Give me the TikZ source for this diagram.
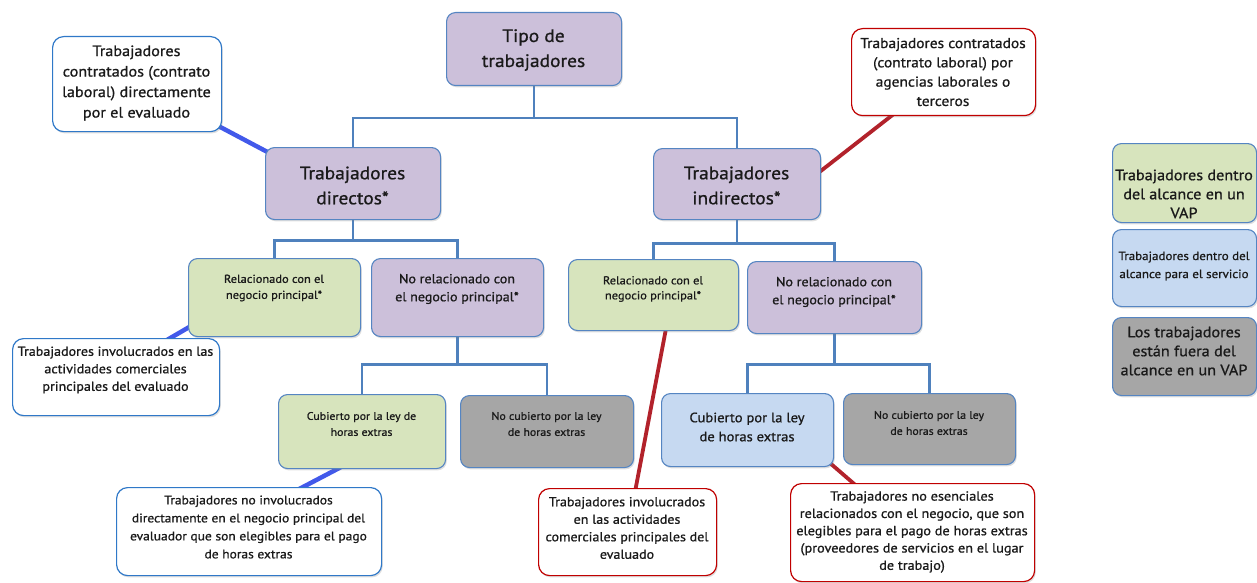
\documentclass[tikz,border=0pt]{standalone}
\usepackage{fontspec}
\setmainfont{PT Sans}[FakeStretch=1.08, FakeBold=0.9]
\usetikzlibrary{shadows,backgrounds}
\definecolor{purp}{HTML}{CCC0DA}
\definecolor{grn}{HTML}{D7E4BD}
\definecolor{lblue}{HTML}{C6D9F1}
\definecolor{gry}{HTML}{A6A6A6}
\definecolor{bline}{HTML}{5585C2}
\definecolor{treec}{HTML}{4F81BD}
\definecolor{wblue}{HTML}{2F78C8}
\definecolor{wred}{HTML}{C00000}
\definecolor{cblue}{HTML}{4259EA}
\definecolor{cred}{HTML}{B2222B}
\definecolor{txt}{HTML}{1A1A1A}
\tikzset{
  box/.style={draw=bline, line width=1.1pt, rounded corners=9pt, anchor=north west, inner sep=0pt,
    drop shadow={shadow xshift=1.2pt, shadow yshift=-1.8pt, opacity=0.25}},
  pbox/.style={box, fill=purp},
  gbox/.style={box, fill=grn},
  bbox/.style={box, fill=lblue},
  ybox/.style={box, fill=gry},
  wbbox/.style={box, fill=white, draw=wblue, line width=1.2pt, rounded corners=11pt},
  wrbox/.style={box, fill=white, draw=wred, line width=1.2pt, rounded corners=11pt},
  tx/.style={align=center, text=txt, inner sep=0pt},
  tree/.style={draw=treec, line width=2.8pt},
  bconn/.style={draw=cblue, line width=4.5pt},
  rconn/.style={draw=cred, line width=3.8pt},
}
\begin{document}
\begin{tikzpicture}[x=1pt, y=-1pt]
\useasboundingbox (0,0) rectangle (1257,583);
% boxes
\node[pbox, minimum width=175, minimum height=73] (tipo) at (446,12) {};
\node[wbbox, minimum width=169, minimum height=95] (tlw) at (52,36) {};
\node[pbox, minimum width=175, minimum height=72] (dir) at (265,147) {};
\node[pbox, minimum width=167, minimum height=71] (ind) at (653,148) {};
\node[wrbox, minimum width=184, minimum height=87] (rtr) at (851,28) {};
\node[gbox, minimum width=172, minimum height=78] (rel1) at (188,258) {};
\node[pbox, minimum width=172, minimum height=78] (norel1) at (371,258) {};
\node[gbox, minimum width=170, minimum height=71] (rel2) at (568,259) {};
\node[pbox, minimum width=174, minimum height=72] (norel2) at (747,261) {};
\node[gbox, minimum width=167, minimum height=74] (cub1) at (278,394) {};
\node[ybox, minimum width=173, minimum height=72] (nocub1) at (460,395) {};
\node[bbox, minimum width=172, minimum height=73] (cub2) at (661,393) {};
\node[ybox, minimum width=172, minimum height=71] (nocub2) at (843,393) {};
\node[wbbox, minimum width=207, minimum height=77] (liw) at (12,338) {};
\node[wbbox, minimum width=265, minimum height=88] (blw) at (116,487) {};
\node[wrbox, minimum width=178, minimum height=87] (rmid) at (538,488) {};
\node[wrbox, minimum width=244, minimum height=98] (rbr) at (790,483) {};
\node[gbox, minimum width=144, minimum height=79] (lg1) at (1112,143) {};
\node[bbox, minimum width=144, minimum height=77] (lg2) at (1112,229) {};
\node[ybox, minimum width=144, minimum height=78] (lg3) at (1112,317) {};
% texts
\node[tx, font=\fontsize{18}{25}\selectfont] (tipo-t) at (533.5,50) {Tipo de\\trabajadores};
\node[tx, font=\fontsize{15}{20.5}\selectfont] (tlw-t) at (136.5,83) {Trabajadores\\contratados (contrato\\laboral) directamente\\por el evaluado};
\node[tx, font=\fontsize{18}{25}\selectfont] (dir-t) at (352.5,185.5) {Trabajadores\\directos*};
\node[tx, font=\fontsize{18}{25}\selectfont] (ind-t) at (736.5,185.5) {Trabajadores\\indirectos*};
\node[tx, font=\fontsize{14.3}{19.3}\selectfont] (rtr-t) at (943,72) {Trabajadores contratados\\(contrato laboral) por\\agencias laborales o\\terceros};
\node[tx, font=\fontsize{11.5}{16}\selectfont] (rel1-t) at (274,288) {Relacionado con el\\negocio principal*};
\node[tx, font=\fontsize{13}{18}\selectfont] (norel1-t) at (457,289) {No relacionado con\\el negocio principal*};
\node[tx, font=\fontsize{11.5}{15}\selectfont] (rel2-t) at (653,289) {Relacionado con el\\negocio principal*};
\node[tx, font=\fontsize{13}{18}\selectfont] (norel2-t) at (834,292) {No relacionado con\\el negocio principal*};
\node[tx, font=\fontsize{11}{16}\selectfont] (cub1-t) at (361.5,424) {Cubierto por la ley de\\horas extras};
\node[tx, font=\fontsize{11}{16}\selectfont] (nocub1-t) at (546.5,424) {No cubierto por la ley\\de horas extras};
\node[tx, font=\fontsize{13.5}{19}\selectfont] (cub2-t) at (747,427) {Cubierto por la ley\\de horas extras};
\node[tx, font=\fontsize{11}{16}\selectfont] (nocub2-t) at (929,423) {No cubierto por la ley\\de horas extras};
\node[tx, font=\fontsize{13}{17.5}\selectfont] (liw-t) at (115.5,370) {Trabajadores involucrados en las\\actividades comerciales\\principales del evaluado};
\node[tx, font=\fontsize{12.5}{18}\selectfont] (blw-t) at (248.5,527) {Trabajadores no involucrados\\directamente en el negocio principal del\\evaluador que son elegibles para el pago\\de horas extras};
\node[tx, font=\fontsize{13}{17.5}\selectfont] (rmid-t) at (627,528) {Trabajadores involucrados\\en las actividades\\comerciales principales del\\evaluado};
\node[tx, font=\fontsize{13.2}{17.3}\selectfont] (rbr-t) at (912,532) {Trabajadores no esenciales\\relacionados con el negocio, que son\\elegibles para el pago de horas extras\\(proveedores de servicios en el lugar\\de trabajo)};
\node[tx, font=\fontsize{15}{19}\selectfont] (lg1-t) at (1184,194) {Trabajadores dentro\\del alcance en un\\VAP};
\node[tx, font=\fontsize{12}{18}\selectfont] (lg2-t) at (1184,266) {Trabajadores dentro del\\alcance para el servicio};
\node[tx, font=\fontsize{15}{19}\selectfont] (lg3-t) at (1184,351) {Los trabajadores\\están fuera del\\alcance en un VAP};
% connectors
\begin{pgfonlayer}{background}
\draw[tree] (tipo.south) -- ++(0,32) coordinate (b1);
\draw[tree] (b1) -| (dir.north);
\draw[tree] (b1) -| (ind.north);
\draw[tree] (dir.south) -- ++(0,20) coordinate (b2);
\draw[tree] (b2) -| (rel1.north);
\draw[tree] (b2) -| (norel1.north);
\draw[tree] (ind.south) -- ++(0,23) coordinate (b3);
\draw[tree] (b3) -| (rel2.north);
\draw[tree] (b3) -| (norel2.north);
\draw[tree] (norel1.south) -- ++(0,27) coordinate (b4);
\draw[tree] (b4) -| (cub1.north);
\draw[tree] (b4) -| (nocub1.north);
\draw[tree] (norel2.south) -- ++(0,30) coordinate (b5);
\draw[tree] (b5) -| (cub2.north);
\draw[tree] (b5) -| (nocub2.north);
\draw[bconn] ([shift={(-11,-10)}]tlw.south east) -- ([shift={(10,9)}]dir.north west);
\draw[bconn] ([shift={(44,6)}]liw.north) -- ([shift={(8,-14)}]rel1.south west);
\draw[bconn] ([shift={(42.5,6)}]blw.north) -- ([shift={(-13.5,-6)}]cub1.south);
\draw[rconn] ([shift={(-10,-5.5)}]ind.east) -- ([shift={(-45,-6)}]rtr.south);
\draw[rconn] ([shift={(13.5,-8)}]rel2.south) -- ([shift={(7,6)}]rmid.north);
\draw[rconn] ([shift={(-11,-10)}]cub2.south east) -- ([shift={(70,6)}]rbr.north west);
\end{pgfonlayer}
\end{tikzpicture}
\end{document}
